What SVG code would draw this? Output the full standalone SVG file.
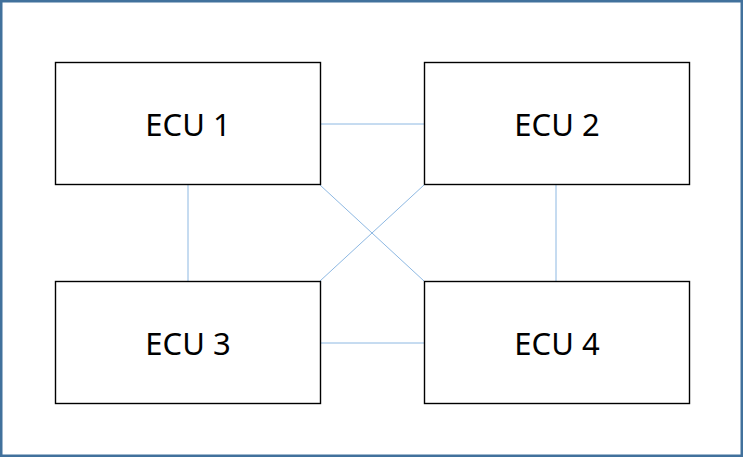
<svg xmlns="http://www.w3.org/2000/svg" width="743" height="457" viewBox="0 0 743 457">
<style>
.box{fill:#fff;stroke:#000;stroke-width:1.4}
.lbl{font-family:"Noto Sans","Open Sans","DejaVu Sans",sans-serif;font-size:31px;fill:#000;text-anchor:middle}
.con{stroke:#8DB8E2;stroke-width:1;fill:none}
</style>
<rect x="1.25" y="1.25" width="740.5" height="454.5" fill="#fff" stroke="#41719C" stroke-width="2.5"/>
<g id="connectors">
<line class="con" x1="320" y1="124" x2="424" y2="124"/>
<line class="con" x1="320" y1="343" x2="424" y2="343"/>
<line class="con" x1="188" y1="185" x2="188" y2="281"/>
<line class="con" x1="556" y1="185" x2="556" y2="281"/>
<line class="con" x1="320" y1="185" x2="424" y2="281"/>
<line class="con" x1="424" y1="185" x2="320" y2="281"/>
</g>
<g id="ecu1"><rect class="box" x="55.5" y="62.5" width="265" height="122"/><text class="lbl" x="188" y="136">ECU 1</text></g>
<g id="ecu2"><rect class="box" x="424.5" y="62.5" width="265" height="122"/><text class="lbl" x="557" y="136">ECU 2</text></g>
<g id="ecu3"><rect class="box" x="55.5" y="281.5" width="265" height="122"/><text class="lbl" x="188" y="355">ECU 3</text></g>
<g id="ecu4"><rect class="box" x="424.5" y="281.5" width="265" height="122"/><text class="lbl" x="557" y="355">ECU 4</text></g>
</svg>
